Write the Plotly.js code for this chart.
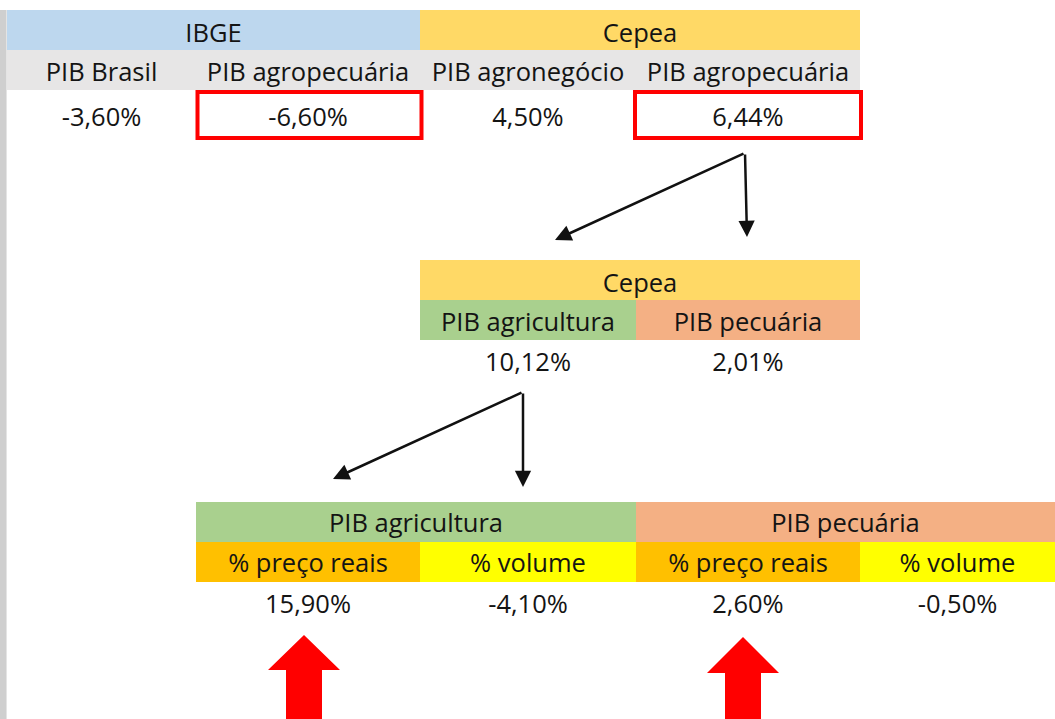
<!DOCTYPE html>
<html>
<head>
<meta charset="utf-8">
<script src="https://cdn.plot.ly/plotly-3.0.1.min.js"></script>
<style>html,body{margin:0;padding:0;background:#fff;overflow:hidden}#chart{width:1055px;height:719px}</style>
</head>
<body>
<div id="chart"></div>
<script>
// ---------- DATA ----------
const topGroups = ['IBGE', 'Cepea'];
const topCols = ['PIB Brasil', 'PIB agropecuária', 'PIB agronegócio', 'PIB agropecuária'];
const topValues = [-3.60, -6.60, 4.50, 6.44];

const midGroups = ['Cepea'];
const midCols = ['PIB agricultura', 'PIB pecuária'];
const midValues = [10.12, 2.01];

const botGroups = ['PIB agricultura', 'PIB pecuária'];
const botCols = ['% preço reais', '% volume', '% preço reais', '% volume'];
const botValues = [15.90, -4.10, 2.60, -0.50];

// ---------- GEOMETRY / STYLE ----------
const G = {
  top: {edges: [7, 196, 420, 636, 860], groupSpans: [[0, 2], [2, 4]], rows: [10, 50, 90], textY: [36, 74.5, 119.5],
        groupColors: ['#BDD7EE', '#FFD966'], colColors: ['#E7E6E6', '#E7E6E6', '#E7E6E6', '#E7E6E6']},
  mid: {edges: [420, 636, 860], groupSpans: [[0, 2]], rows: [260, 300, 340], textY: [286, 324.5, 365],
        groupColors: ['#FFD966'], colColors: ['#A9D08E', '#F4B084']},
  bot: {edges: [196, 420, 636, 860, 1055], groupSpans: [[0, 2], [2, 4]], rows: [502, 542, 582], textY: [526, 566, 607],
        groupColors: ['#A9D08E', '#F4B084'], colColors: ['#FFC000', '#FFFF00', '#FFC000', '#FFFF00']}
};
const FONT = '"Open Sans", "Noto Sans", sans-serif';
const FSIZE = 25.5;
const TXT = '#141414';

const fmt = v => (v < 0 ? '-' : '') + Math.abs(v).toFixed(2).replace('.', ',') + '%';
const mid = (a, b) => (a + b) / 2;

const shapes = [];
const traces = [];

// left gray strip
shapes.push({type: 'rect', xref: 'x', yref: 'y', x0: 0, x1: 6, y0: 10, y1: 719, fillcolor: '#cfcfcf', line: {width: 0}, layer: 'below'});
shapes.push({type: 'rect', xref: 'x', yref: 'y', x0: 6, x1: 7, y0: 10, y1: 719, fillcolor: '#e4e4e4', line: {width: 0}, layer: 'below'});

function buildTable(g, groups, cols, values) {
  const tx = [], ty = [], tt = [];
  groups.forEach((name, i) => {
    const [a, b] = g.groupSpans[i];
    const x0 = g.edges[a], x1 = g.edges[b];
    shapes.push({type: 'rect', xref: 'x', yref: 'y', x0, x1, y0: g.rows[0], y1: g.rows[1], fillcolor: g.groupColors[i], line: {width: 0}, layer: 'below'});
    tx.push(mid(x0, x1)); ty.push(g.textY[0]); tt.push(name);
  });
  cols.forEach((name, i) => {
    const x0 = g.edges[i], x1 = g.edges[i + 1];
    shapes.push({type: 'rect', xref: 'x', yref: 'y', x0, x1, y0: g.rows[1], y1: g.rows[2], fillcolor: g.colColors[i], line: {width: 0}, layer: 'below'});
    tx.push(mid(x0, x1)); ty.push(g.textY[1]); tt.push(name);
  });
  values.forEach((v, i) => {
    tx.push(mid(g.edges[i], g.edges[i + 1])); ty.push(g.textY[2]); tt.push(fmt(v));
  });
  traces.push({type: 'scatter', mode: 'text', x: tx, y: ty, text: tt, textposition: 'middle center',
    textfont: {family: FONT, size: FSIZE, color: TXT}, hoverinfo: 'skip', showlegend: false, cliponaxis: false});
}
buildTable(G.top, topGroups, topCols, topValues);
buildTable(G.mid, midGroups, midCols, midValues);
buildTable(G.bot, botGroups, botCols, botValues);

// red highlight boxes around the two "PIB agropecuária" values
[[1, 197.5, 421.5], [3, 635, 861]].forEach(([i, x0, x1]) => {
  shapes.push({type: 'rect', xref: 'x', yref: 'y', x0, x1, y0: 92, y1: 138, fillcolor: 'rgba(0,0,0,0)', line: {color: '#FF0000', width: 4}});
});

// black arrows
const annotations = [];
function arrow(tx, ty, hx, hy) {
  annotations.push({xref: 'x', yref: 'y', axref: 'x', ayref: 'y', x: hx, y: hy, ax: tx, ay: ty, text: '',
    showarrow: true, arrowhead: 2, arrowsize: 1.3, arrowwidth: 2.5, arrowcolor: '#111'});
}
arrow(745, 153, 555, 240);
arrow(745, 153, 747, 237);
arrow(523, 392, 333, 479);
arrow(523, 392, 523, 487);

// red block arrows (under the "% preço reais" values)
function blockArrow(cx, tipY, baseY) {
  const hw = 36, sw = 18;
  const p = `M ${cx} ${tipY} L ${cx + hw} ${baseY} L ${cx + sw} ${baseY} L ${cx + sw} 725 L ${cx - sw} 725 L ${cx - sw} ${baseY} L ${cx - hw} ${baseY} Z`;
  shapes.push({type: 'path', xref: 'x', yref: 'y', path: p, fillcolor: '#FF0000', line: {width: 0}});
}
blockArrow(304, 635, 670);
blockArrow(743, 637, 673);

const layout = {
  width: 1055, height: 719,
  margin: {l: 0, r: 0, t: 0, b: 0},
  paper_bgcolor: '#fff', plot_bgcolor: '#fff',
  xaxis: {range: [0, 1055], visible: false, fixedrange: true},
  yaxis: {range: [719, 0], visible: false, fixedrange: true},
  shapes, annotations, showlegend: false
};
Plotly.newPlot('chart', traces, layout, {staticPlot: true});
</script>
</body>
</html>
